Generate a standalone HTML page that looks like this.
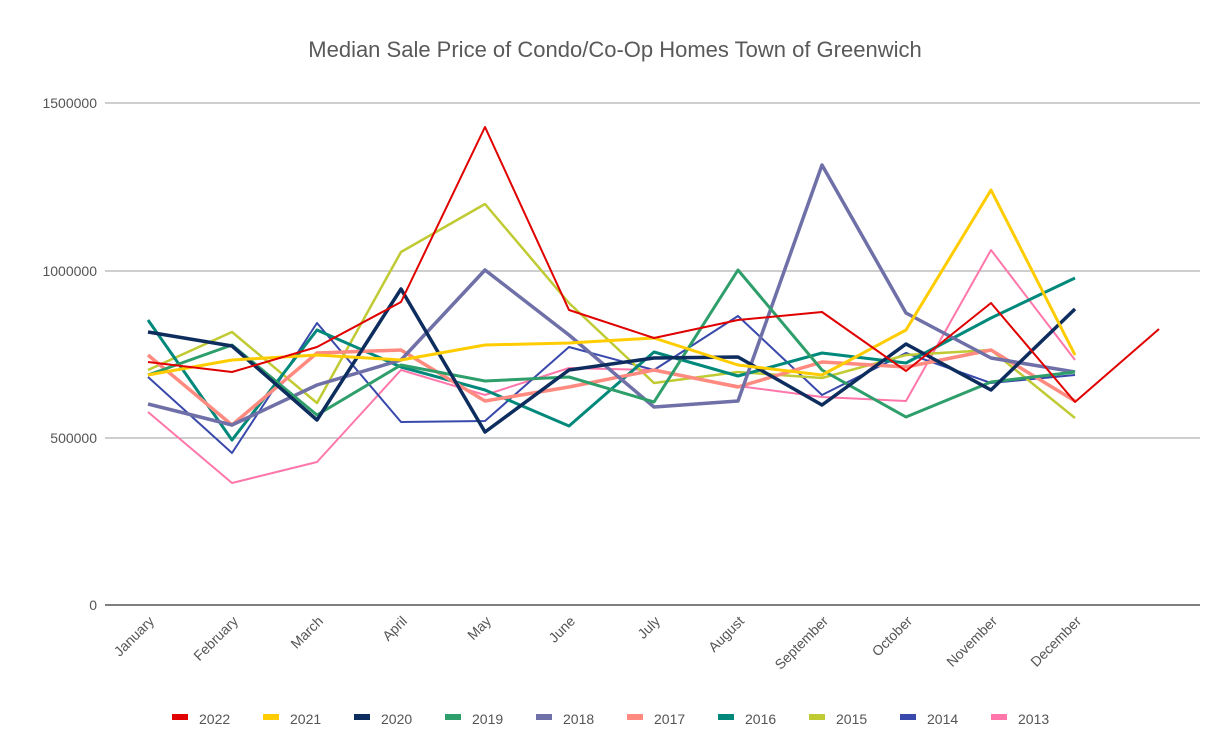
<!DOCTYPE html>
<html><head><meta charset="utf-8"><style>body{margin:0;background:#fff}svg{display:block;font-family:"Liberation Sans",Arial,sans-serif}</style></head><body>
<svg width="1226" height="754" xmlns="http://www.w3.org/2000/svg">
<rect width="1226" height="754" fill="#fff"/>
<text x="615" y="57" font-size="22" fill="#595959" text-anchor="middle">Median Sale Price of Condo/Co-Op Homes Town of Greenwich</text>
<g stroke="#9e9e9e" stroke-width="1"><line x1="105" y1="103" x2="1200" y2="103"/><line x1="105" y1="271" x2="1200" y2="271"/><line x1="105" y1="438" x2="1200" y2="438"/></g>
<line x1="105" y1="605" x2="1200" y2="605" stroke="#333" stroke-width="1.3"/>
<g font-size="14" fill="#555" text-anchor="end"><text x="97" y="108">1500000</text><text x="97" y="276">1000000</text><text x="97" y="443">500000</text><text x="97" y="610">0</text></g>
<g font-size="14" fill="#555" text-anchor="end">
<text transform="translate(155,622) rotate(-45)">January</text><text transform="translate(239,622) rotate(-45)">February</text><text transform="translate(324,622) rotate(-45)">March</text><text transform="translate(408,622) rotate(-45)">April</text><text transform="translate(492,622) rotate(-45)">May</text><text transform="translate(576,622) rotate(-45)">June</text><text transform="translate(661,622) rotate(-45)">July</text><text transform="translate(745,622) rotate(-45)">August</text><text transform="translate(829,622) rotate(-45)">September</text><text transform="translate(913,622) rotate(-45)">October</text><text transform="translate(998,622) rotate(-45)">November</text><text transform="translate(1082,622) rotate(-45)">December</text>
</g>
<g fill="none" stroke-linejoin="round">
<polyline stroke="#ff77aa" stroke-width="2" points="148,412 232,483 317,462 401,370 485,395 569,368 654,370 738,386 822,397 906,401 991,250 1075,360"/>
<polyline stroke="#3949ab" stroke-width="2" points="148,377 232,453 317,323 401,422 485,421 569,347 654,370 738,316 822,395 906,353 991,383 1075,375"/>
<polyline stroke="#c0ca33" stroke-width="2.5" points="148,370 232,332 317,403 401,252 485,204 569,303 654,383 738,372 822,378 906,355 991,350 1075,418"/>
<polyline stroke="#00897b" stroke-width="3" points="148,320 232,440 317,330 401,367 485,390 569,426 654,352 738,376 822,353 906,363 991,318 1075,278"/>
<polyline stroke="#ff8a80" stroke-width="3.5" points="148,355 232,425 317,353 401,350 485,401 569,387 654,370 738,387 822,362 906,367 991,350 1075,401"/>
<polyline stroke="#7070a8" stroke-width="3.5" points="148,404 232,425 317,385 401,360 485,270 569,335 654,407 738,401 822,165 906,313 991,358 1075,372"/>
<polyline stroke="#2e9e6a" stroke-width="3" points="148,375 232,345 317,415 401,365 485,381 569,377 654,402 738,270 822,370 906,417 991,382 1075,372"/>
<polyline stroke="#0d2d5e" stroke-width="3.5" points="148,332 232,346 317,420 401,289 485,432 569,370 654,358 738,357 822,405 906,344 991,390 1075,309"/>
<polyline stroke="#ffcc00" stroke-width="3" points="148,375 232,360 317,355 401,360 485,345 569,343 654,338 738,365 822,375 906,330 991,190 1075,355"/>
<polyline stroke="#e00000" stroke-width="2" points="148,362 232,372 317,347 401,302 485,127 569,310 654,338 738,320 822,312 906,371 991,303 1075,402 1159,329"/>
</g>
<g font-size="14" fill="#555">
<rect x="172" y="714" width="16" height="6" fill="#e00000"/><text x="199" y="724">2022</text>
<rect x="263" y="714" width="16" height="6" fill="#ffcc00"/><text x="290" y="724">2021</text>
<rect x="354" y="714" width="16" height="6" fill="#0d2d5e"/><text x="381" y="724">2020</text>
<rect x="445" y="714" width="16" height="6" fill="#2e9e6a"/><text x="472" y="724">2019</text>
<rect x="536" y="714" width="16" height="6" fill="#7070a8"/><text x="563" y="724">2018</text>
<rect x="627" y="714" width="16" height="6" fill="#ff8a80"/><text x="654" y="724">2017</text>
<rect x="718" y="714" width="16" height="6" fill="#00897b"/><text x="745" y="724">2016</text>
<rect x="809" y="714" width="16" height="6" fill="#c0ca33"/><text x="836" y="724">2015</text>
<rect x="900" y="714" width="16" height="6" fill="#3949ab"/><text x="927" y="724">2014</text>
<rect x="991" y="714" width="16" height="6" fill="#ff77aa"/><text x="1018" y="724">2013</text>
</g>
</svg>
</body></html>
